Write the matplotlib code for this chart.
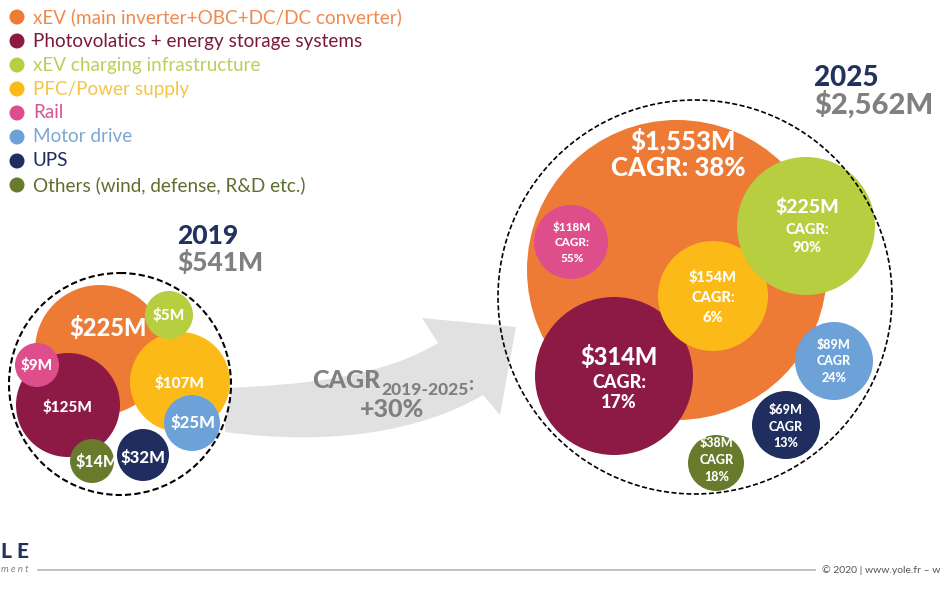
import numpy as np
import matplotlib
matplotlib.use("Agg")
from matplotlib import pyplot as plt
from matplotlib.patches import Circle, PathPatch
from matplotlib.path import Path

plt.rcParams['font.family'] = ['Lato', 'DejaVu Sans']

# data
segments = ["xEV (main inverter+OBC+DC/DC converter)",
            "Photovolatics + energy storage systems",
            "xEV charging infrastructure",
            "PFC/Power supply",
            "Rail",
            "Motor drive",
            "UPS",
            "Others (wind, defense, R&D etc.)"]
values_2019 = [225, 125, 5, 107, 9, 25, 32, 14]
values_2025 = [1553, 314, 225, 154, 118, 89, 69, 38]
cagr_2025 = [38, 17, 90, 6, 55, 24, 13, 18]
total_2019 = 541
total_2025 = 2562
cagr_total = 30
years = ["2019", "2025"]

colors = ["#ED7A35", "#8C1A45", "#B6CE3F", "#FBBA18", "#DE4E8B", "#6CA2D8", "#1F2E5E", "#687A2B"]
text_colors = ["#EE8A4E", "#7A1A3E", "#B9D05A", "#F6C548", "#D65690", "#7FA7D4", "#1F2E5E", "#5E6E2E"]
navy = "#21325F"
grey = "#808080"
W = 'black'  # heaviest weight

# bubble layout (centre x, centre y, radius) in pixels
layout_2019 = [(100, 350, 65), (68, 405, 52), (169, 315, 24), (180, 382, 50),
               (37, 365, 22), (192, 423, 28), (143, 455, 26), (92, 461, 22)]
z_2019 = [1, 2, 4, 3, 4, 4, 4, 4]
fs_2019 = [17, 11, 11, 11, 11, 12, 12, 11.5]
lab_off_2019 = [(8, -22), (0, 2), (0, 0), (0, 1), (0, 1), (1, 0), (0, 3), (5, 1)]

layout_2025 = [(677, 270, 150), (614, 376, 79), (806, 226, 69), (713, 296, 55),
               (571, 242, 37), (834, 361, 39), (786, 425, 34), (716, 463, 28)]
z_2025 = [1, 2, 4, 3, 3, 3, 3, 3]
# font size of value line / CAGR lines, and y offsets of the three lines
val_fs_2025 = [18.5, 17, 14, 10.5, 8.5, 9, 9, 9]
sub_fs_2025 = [18.5, 13, 10.5, 10.5, 8.5, 9, 9, 9]
line_dy_2025 = [(-130, -102, None), (-19, 7, 26), (-19, 4, 22), (-18, 2, 22),
                (-15, 1, 16), (-16, 0, 17), (-15, 2, 18), (-20, -3, 14)]
line_dx_2025 = [6, 5, 1, 0, 1, 0, 0, 1]

fig = plt.figure(figsize=(9.43, 5.92), dpi=100)
ax = fig.add_axes([0, 0, 1, 1])
ax.set_xlim(0, 943)
ax.set_ylim(592, 0)
ax.axis('off')

# legend
for i, name in enumerate(segments):
    y = 17 + 24 * i
    ax.add_patch(Circle((17, y), 7.5, color=colors[i], lw=0))
    ax.text(33, y, name, color=text_colors[i], fontsize=13.6, va='center', ha='left')

# growth arrow
verts = [(225, 432), (330, 446), (420, 432), (483, 395),
         (500, 415), (516, 327), (422, 318), (438, 343),
         (380, 378), (300, 385), (225, 388), (225, 432)]
codes = [Path.MOVETO, Path.CURVE4, Path.CURVE4, Path.CURVE4,
         Path.LINETO, Path.LINETO, Path.LINETO, Path.LINETO,
         Path.CURVE4, Path.CURVE4, Path.CURVE4, Path.CLOSEPOLY]
ax.add_patch(PathPatch(Path(verts, codes), facecolor="#E1E1E1", edgecolor='none', zorder=0))
t = ax.text(312, 388, "CAGR", color=grey, fontsize=18, fontweight=W, ha='left', va='baseline')
t2 = ax.annotate("2019-2025", xy=(1, 0), xycoords=t, xytext=(1, -4), textcoords='offset points',
                 color=grey, fontsize=12.5, fontweight=W, ha='left', va='bottom')
ax.annotate(":", xy=(1, 0), xycoords=t2, xytext=(0, 3), textcoords='offset points',
            color=grey, fontsize=14, fontweight=W, ha='left', va='bottom')
ax.text(392, 417, "+%d%%" % cagr_total, color=grey, fontsize=18, fontweight=W, ha='center', va='baseline')

# 2019 bubbles
ax.add_patch(Circle((120, 384), 111, facecolor='white', edgecolor='none', zorder=0.5))
for i, v in enumerate(values_2019):
    cx, cy, r = layout_2019[i]
    ax.add_patch(Circle((cx, cy), r, color=colors[i], lw=0, zorder=z_2019[i]))
    dx, dy = lab_off_2019[i]
    ax.text(cx + dx, cy + dy, "$%dM" % v, color='white', fontsize=fs_2019[i],
            fontweight=W, ha='center', va='center', zorder=6)
ax.add_patch(Circle((120, 384), 111, fill=False, edgecolor='black', lw=1.5, ls=(0, (3, 1.5)), zorder=7))
ax.text(177, 236, years[0], color=navy, fontsize=19, fontweight=W, ha='left', va='center')
ax.text(177, 263, "$%dM" % total_2019, color=grey, fontsize=19, fontweight=W, ha='left', va='center')

# 2025 bubbles
for i, v in enumerate(values_2025):
    cx, cy, r = layout_2025[i]
    ax.add_patch(Circle((cx, cy), r, color=colors[i], lw=0, zorder=z_2025[i]))
    x = cx + line_dx_2025[i]
    d1, d2, d3 = line_dy_2025[i]
    ax.text(x, cy + d1, "${:,}M".format(v), color='white', fontsize=val_fs_2025[i],
            fontweight=W, ha='center', va='center', zorder=6)
    if i == 0:
        ax.text(x - 5, cy + d2, "CAGR: %d%%" % cagr_2025[i], color='white', fontsize=sub_fs_2025[i],
                fontweight=W, ha='center', va='center', zorder=6)
    else:
        word = "CAGR:" if i < 5 else "CAGR"
        ax.text(x, cy + d2, word, color='white', fontsize=sub_fs_2025[i],
                fontweight=W, ha='center', va='center', zorder=6)
        ax.text(x, cy + d3, "%d%%" % cagr_2025[i], color='white', fontsize=sub_fs_2025[i],
                fontweight=W, ha='center', va='center', zorder=6)
ax.add_patch(Circle((695, 297), 197, fill=False, edgecolor='black', lw=1.2, ls=(0, (3, 1.5)), zorder=7))
ax.text(814, 78, years[1], color=navy, fontsize=20, fontweight=W, ha='left', va='center')
ax.text(814, 105, "${:,}M".format(total_2025), color=grey, fontsize=21, fontweight=W, ha='left', va='center')

# footer
ax.text(1, 551, "L E", color=navy, fontsize=15, fontweight=W, ha='left', va='center')
ax.text(1, 569, "m e n t", color=grey, fontsize=7, style='italic', ha='left', va='center')
ax.plot([38, 815], [570, 570], color="#B5B5B5", lw=1.2)
ax.text(822, 570, "\u00a9 2020 | www.yole.fr \u2013 w", color="#555555", fontsize=7.5, ha='left', va='center')

fig.savefig("out.png", dpi=100)
